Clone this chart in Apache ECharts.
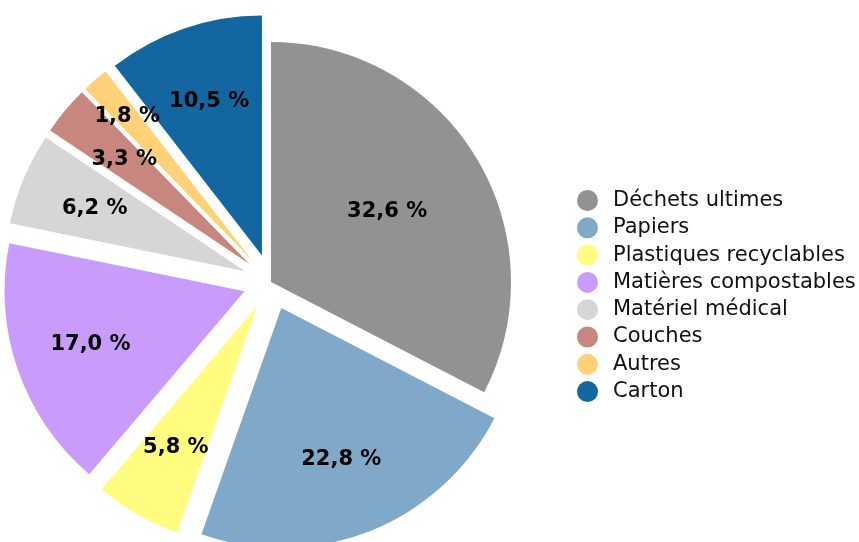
<!DOCTYPE html>
<html>
<head>
<meta charset="utf-8">
<script src="https://cdn.jsdelivr.net/npm/echarts@6/dist/echarts.min.js"></script>
<style>
  html, body { margin: 0; padding: 0; background: #fff; }
  #chart { width: 859px; height: 542px; }
</style>
</head>
<body>
<div id="chart"></div>
<script>
var categories = ['Déchets ultimes', 'Papiers', 'Plastiques recyclables', 'Matières compostables',
                  'Matériel médical', 'Couches', 'Autres', 'Carton'];
var values = [32.6, 22.8, 5.8, 17.0, 6.2, 3.3, 1.8, 10.5];
var colors = ['#929292', '#80a8c9', '#fffc80', '#c99bfd', '#d6d6d6', '#c8877e', '#ffd27a', '#1366a0'];

function fmt(v) {
    return v.toFixed(1).replace('.', ',') + ' %';
}

var labelStyle = {
    show: true,
    position: 'inside',
    fontSize: 21,
    fontWeight: 'bold',
    color: '#000',
    formatter: function (p) { return fmt(p.value); }
};

// which transparent label ring each slice uses: 1 = near the centre (big slice),
// 2 = middle ring, 3 = outer ring (thin slice, keeps clear of its neighbour)
var labelRing = [1, 2, 2, 2, 2, 2, 3, 2];

function sliceData(ring) {
    return categories.map(function (name, i) {
        return {
            name: name,
            value: values[i],
            // only the first slice stays in place, the others are pulled out
            selected: i > 0,
            itemStyle: { color: ring === 0 ? colors[i] : 'rgba(0,0,0,0)' },
            label: { show: labelRing[i] === ring }
        };
    });
}

function pieSeries(inner, ring) {
    return {
        type: 'pie',
        center: [271, 282],
        radius: [inner, 240],
        startAngle: 90,
        selectedMode: 'multiple',
        selectedOffset: 28,
        avoidLabelOverlap: false,
        labelLayout: { hideOverlap: false },
        silent: true,
        label: labelStyle,
        labelLine: { show: false },
        emphasis: { disabled: true },
        data: sliceData(ring)
    };
}

var myChart = echarts.init(document.getElementById('chart'));
var option = {
    animation: false,
    textStyle: { fontFamily: 'DejaVu Sans' },
    legend: {
        orient: 'vertical',
        left: 577,
        top: 190,
        padding: 0,
        icon: 'circle',
        itemWidth: 21,
        itemHeight: 21,
        itemGap: 6.3,
        selectedMode: false,
        data: categories,
        textStyle: { fontSize: 21, color: '#111', padding: [0, 0, 0, 10] }
    },
    series: [
        pieSeries(0, 0),
        pieSeries(26, 1),
        pieSeries(80, 2),
        pieSeries(136, 3)
    ]
};
myChart.setOption(option);
</script>
</body>
</html>
